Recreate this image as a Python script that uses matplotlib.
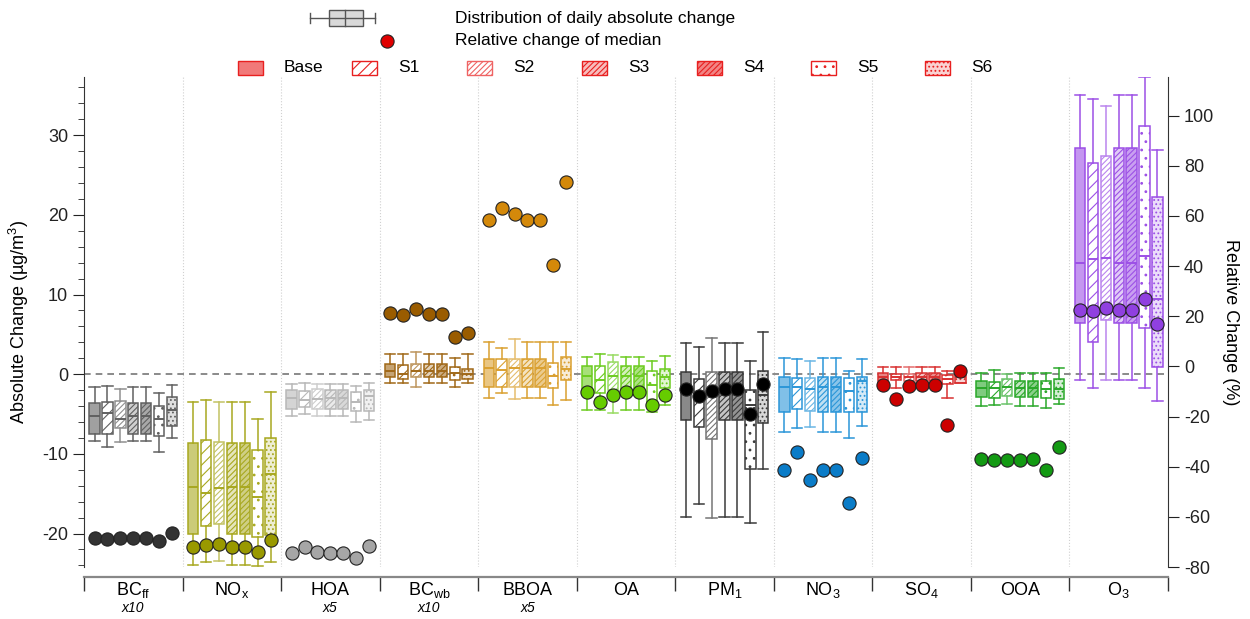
import numpy as np
import matplotlib
matplotlib.use('Agg')
import matplotlib.pyplot as plt
import matplotlib.colors as mcolors
from matplotlib.patches import Rectangle

plt.rcParams['font.family'] = ['Liberation Sans', 'DejaVu Sans']
plt.rcParams['mathtext.fontset'] = 'custom'
plt.rcParams['mathtext.rm'] = 'Liberation Sans'
plt.rcParams['mathtext.it'] = 'Liberation Sans:italic'
plt.rcParams['hatch.linewidth'] = 0.8
plt.rcParams['axes.unicode_minus'] = False

# species (groups) and scenarios
species = [r'BC$_{\rm ff}$', r'NO$_{\rm x}$', 'HOA', r'BC$_{\rm wb}$', 'BBOA', 'OA',
           r'PM$_{\rm 1}$', r'NO$_{\rm 3}$', r'SO$_{\rm 4}$', 'OOA', r'O$_{\rm 3}$']
scale_note = ['x10', '', 'x5', 'x10', 'x5', '', '', '', '', '', '']
scenarios = ['Base', 'S1', 'S2', 'S3', 'S4', 'S5', 'S6']

# daily absolute change (ug/m3), box statistics per species x scenario
whis_hi = [
    [-1.6, -1.5, -1.8, -1.6, -1.6, -2.3, -1.3],
    [-3.5, -3.2, -3.5, -3.5, -3.5, -5.6, -2.2],
    [-1.2, -1.05, -1.2, -1.2, -1.2, -1.5, -1.1],
    [2.55, 2.55, 2.75, 2.55, 2.55, 2.0, 2.55],
    [4.0, 3.3, 4.4, 4.0, 4.0, 4.0, 4.0],
    [2.2, 2.5, 2.4, 2.2, 2.2, 1.7, 2.3],
    [3.9, 3.4, 4.5, 3.9, 3.9, 1.6, 5.3],
    [2.0, 1.9, 1.7, 2.0, 2.0, 0.4, 1.9],
    [0.85, 0.85, 0.85, 0.85, 0.85, 0.35, 0.55],
    [0.1, 0.55, 0.0, 0.1, 0.1, 0.2, 0.75],
    [35.0, 34.6, 33.7, 35.0, 35.0, 37.3, 28.2],
]
q3 = [
    [-3.6, -3.5, -3.4, -3.6, -3.6, -4.0, -2.9],
    [-8.6, -8.2, -8.5, -8.6, -8.6, -9.5, -8.0],
    [-2.0, -2.05, -1.9, -2.0, -2.0, -2.2, -2.0],
    [1.25, 1.15, 1.25, 1.25, 1.25, 0.95, 0.65],
    [1.9, 1.9, 1.9, 1.9, 1.9, 1.4, 2.1],
    [1.05, 1.05, 1.5, 1.05, 1.05, 0.45, 0.65],
    [0.25, -0.6, 0.25, 0.25, 0.25, -2.0, 0.4],
    [-0.4, -0.5, -0.5, -0.4, -0.4, -0.5, -0.4],
    [0.1, 0.0, 0.0, 0.1, 0.1, -0.1, -0.1],
    [-0.8, -1.0, -0.6, -0.8, -0.8, -0.9, -0.6],
    [28.4, 26.5, 27.4, 28.4, 28.4, 31.2, 22.2],
]
med = [
    [-5.3, -4.9, -5.6, -5.3, -5.3, -5.6, -4.5],
    [-14.1, -14.9, -14.3, -14.1, -14.1, -15.4, -12.5],
    [-3.05, -3.2, -3.1, -3.05, -3.05, -3.5, -2.8],
    [0.35, 0.05, 0.4, 0.35, 0.35, 0.1, 0.05],
    [0.75, 0.55, 0.75, 0.75, 0.75, -0.2, 0.65],
    [-0.2, -0.7, -0.2, -0.2, -0.2, -1.35, -0.4],
    [-1.8, -2.6, -2.1, -1.8, -1.8, -3.9, -2.6],
    [-1.65, -1.65, -1.85, -1.65, -1.65, -2.05, -0.85],
    [-0.3, -0.3, -0.4, -0.3, -0.3, -0.6, -0.4],
    [-1.7, -1.75, -1.65, -1.7, -1.7, -1.8, -1.9],
    [13.9, 14.5, 14.6, 13.9, 13.9, 14.8, 9.4],
]
q1 = [
    [-7.5, -7.5, -6.8, -7.5, -7.5, -7.7, -6.5],
    [-20.1, -19.0, -18.8, -20.1, -20.1, -20.4, -20.2],
    [-4.4, -4.1, -4.4, -4.4, -4.4, -4.6, -4.6],
    [-0.35, -0.55, -0.4, -0.35, -0.35, -0.7, -0.6],
    [-1.55, -1.6, -1.55, -1.55, -1.55, -1.75, -0.7],
    [-2.6, -2.3, -2.0, -2.6, -2.6, -3.6, -1.75],
    [-5.7, -6.6, -8.1, -5.7, -5.7, -11.9, -6.1],
    [-4.8, -4.4, -4.6, -4.8, -4.8, -4.7, -4.7],
    [-0.8, -0.7, -0.8, -0.8, -0.8, -1.25, -1.05],
    [-2.9, -3.0, -2.7, -2.9, -2.9, -3.0, -3.1],
    [6.4, 4.0, 6.8, 6.4, 6.4, 5.8, 0.95],
]
whis_lo = [
    [-8.4, -9.2, -8.5, -8.4, -8.4, -9.8, -8.0],
    [-23.9, -23.6, -23.5, -23.9, -23.9, -24.1, -23.6],
    [-5.3, -5.0, -5.3, -5.3, -5.3, -6.0, -5.7],
    [-1.15, -1.05, -1.55, -1.15, -1.15, -1.55, -1.05],
    [-3.0, -2.3, -3.1, -3.0, -3.0, -3.9, -3.3],
    [-4.5, -4.5, -4.9, -4.5, -4.5, -4.7, -3.9],
    [-17.9, -16.3, -18.0, -17.9, -17.9, -18.7, -11.9],
    [-7.2, -6.8, -6.6, -7.2, -7.2, -8.0, -6.5],
    [-1.1, -1.75, -1.35, -1.1, -1.1, -3.0, -1.05],
    [-4.0, -3.9, -3.8, -4.0, -4.0, -4.3, -3.8],
    [-0.7, -1.75, -0.7, -0.7, -0.7, -1.75, -3.35],
]
# relative change of median (%)
rel_med = [
    [-68.4, -68.8, -68.4, -68.4, -68.4, -69.7, -66.4],
    [-72.0, -71.2, -70.9, -72.1, -72.1, -74.1, -69.4],
    [-74.4, -72.0, -73.9, -74.6, -74.6, -76.3, -71.7],
    [21.3, 20.3, 22.9, 21.0, 21.0, 11.8, 13.3],
    [58.2, 63.3, 60.8, 58.2, 58.2, 40.4, 73.7],
    [-10.2, -14.1, -11.3, -10.2, -10.2, -15.3, -11.4],
    [-9.0, -11.7, -9.7, -8.9, -8.9, -18.8, -6.9],
    [-41.4, -34.3, -45.5, -41.4, -41.4, -54.4, -36.5],
    [-7.6, -12.9, -8.0, -7.6, -7.6, -23.2, -2.0],
    [-36.9, -37.3, -37.3, -37.3, -36.9, -41.3, -32.1],
    [22.3, 21.9, 23.3, 22.6, 22.3, 27.0, 16.9],
]

box_colors = ['#606060', '#a8a820', '#b8b8b8', '#a06818', '#daa030', '#6ccc20',
              '#3a3a3a', '#2b96d8', '#d83030', '#2aa82a', '#9c50e6']
dot_colors = ['#333333', '#999900', '#a6a6a6', '#9a5c00', '#d4890a', '#66cc00',
              '#000000', '#0a7cc8', '#cc0000', '#139a13', '#9040e0']


def mix(c, f):
    c = np.array(mcolors.to_rgb(c))
    return tuple(c * f + (1 - f) * np.ones(3))


def scen_style(c, j):
    # face, hatch, edge
    if j == 0:
        return mix(c, 0.6), None, c
    if j == 1:
        return 'white', '///', c
    if j == 2:
        return 'white', '//////', mix(c, 0.7)
    if j == 3:
        return mix(c, 0.3), '//////', c
    if j == 4:
        return mix(c, 0.55), '//////', c
    if j == 5:
        return 'white', '..', c
    return mix(c, 0.2), '....', c


fig = plt.figure(figsize=(12.5, 6.19), dpi=100)
ax = fig.add_axes([84 / 1250, 1 - 567 / 619, (1168 - 84) / 1250, 490 / 619])
ax2 = ax.twinx()

step = 0.131
width = 0.105
for i in range(len(species)):
    for j in range(len(scenarios)):
        pos = i + 0.5 + (j - 3) * step
        face, hatch, edge = scen_style(box_colors[i], j)
        st = [dict(med=med[i][j], q1=q1[i][j], q3=q3[i][j],
                   whislo=whis_lo[i][j], whishi=whis_hi[i][j], fliers=[])]
        bp = ax.bxp(st, positions=[pos], widths=width, capwidths=width,
                    patch_artist=True, showfliers=False, manage_ticks=False,
                    boxprops=dict(facecolor=face, edgecolor=edge, linewidth=1.1),
                    whiskerprops=dict(color=edge, linewidth=1.1),
                    capprops=dict(color=edge, linewidth=1.1),
                    medianprops=dict(color=box_colors[i], linewidth=1.4))
        if hatch:
            bp['boxes'][0].set_hatch(hatch)
        ax2.plot(pos, rel_med[i][j], 'o', ms=9.5, mfc=dot_colors[i],
                 mec='#222222', mew=0.8, zorder=5)

ax.axhline(0, color='#777777', lw=1.2, ls=(0, (4, 3)), zorder=1)
for b in range(1, len(species)):
    ax.axvline(b, color='#d0d0d0', lw=0.8, ls=':', zorder=0)

ax.set_xlim(0, len(species))
ax.set_ylim(-24.2, 37.3)
ax2.set_ylim(-79.8, 115.4)

ax.set_yticks(np.arange(-20, 31, 10))
ax.set_yticks(np.arange(-24, 37, 2), minor=True)
ax.tick_params(axis='y', which='major', direction='out', length=8, labelsize=13, colors='#222222')
ax.tick_params(axis='y', which='minor', direction='out', length=4, color='#222222')
ax2.set_yticks(np.arange(-80, 101, 20))
ax2.tick_params(axis='y', direction='out', length=8, labelsize=13, colors='#222222')

ax.set_xticks(np.arange(0, len(species) + 1))
ax.set_xticklabels([])
ax.tick_params(axis='x', direction='out', length=10, color='#333333', width=1)

for a in (ax, ax2):
    a.spines['top'].set_visible(False)
ax.spines['right'].set_visible(False)
ax2.spines['left'].set_visible(False)
ax2.spines['bottom'].set_visible(False)
ax.spines['bottom'].set_position(('outward', 7))
ax.spines['bottom'].set_color('#888888')
ax.spines['bottom'].set_linewidth(1.6)
ax.spines['left'].set_color('#333333')
ax2.spines['right'].set_color('#333333')

ax.set_ylabel(r'Absolute Change (µg/m$^{3}$)', fontsize=13, labelpad=8)
ax2.set_ylabel('Relative Change (%)', fontsize=13, rotation=270, labelpad=18)

for i, name in enumerate(species):
    ax.text(i + 0.5, -0.047, name, transform=ax.get_xaxis_transform(),
            ha='center', va='center', fontsize=13)
    if scale_note[i]:
        ax.text(i + 0.5, -0.083, scale_note[i], transform=ax.get_xaxis_transform(),
                ha='center', va='center', fontsize=10, style='italic')

# legend drawn in pixel space on an overlay axes
lg = fig.add_axes([0, 0, 1, 1], facecolor='none')
lg.set_xlim(0, 1250)
lg.set_ylim(619, 0)
lg.axis('off')
lg.plot([310, 375], [18, 18], color='#555555', lw=1)
lg.plot([310, 310], [13, 23], color='#555555', lw=1)
lg.plot([375, 375], [13, 23], color='#555555', lw=1)
lg.add_patch(Rectangle((329, 10), 34, 16, facecolor='#d9d9d9', edgecolor='#555555', lw=1))
lg.plot([345, 345], [10, 26], color='#555555', lw=1)
lg.text(455, 18, 'Distribution of daily absolute change', fontsize=12.5, va='center')
lg.plot(387, 41, 'o', ms=9.5, mfc='#e00000', mec='#222222', mew=0.8)
lg.text(455, 41, 'Relative change of median', fontsize=12.5, va='center')

leg_x = [238, 352, 467, 582, 697, 811, 925]
for j, name in enumerate(scenarios):
    face, hatch, edge = scen_style('#e82020', j)
    p = Rectangle((leg_x[j], 61), 25, 14, facecolor=face, edgecolor=edge, lw=1)
    if hatch:
        p.set_hatch(hatch)
    lg.add_patch(p)
    lg.text(leg_x[j] + 46, 68, name, fontsize=12.5, va='center')

fig.savefig('out.png', dpi=100)
